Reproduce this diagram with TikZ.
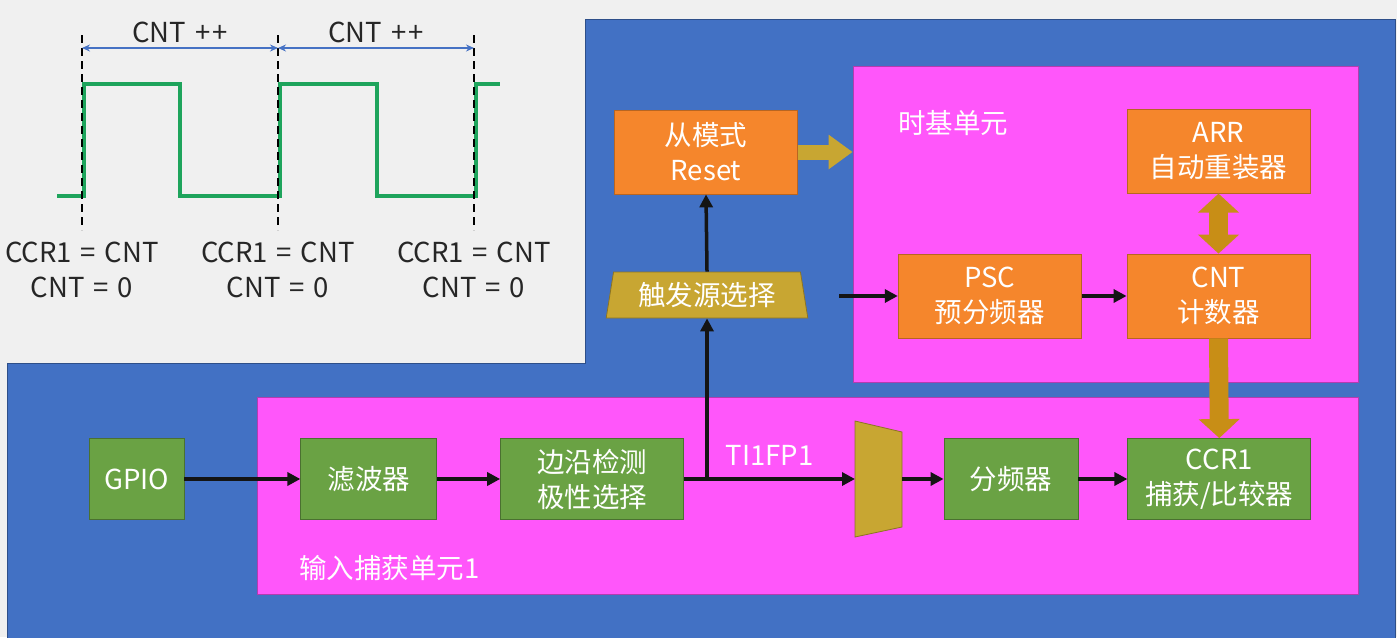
\documentclass[tikz,border=0pt]{standalone}
\usepackage{fontspec}
\setmainfont{Noto Sans CJK SC}
\usepackage{tikz}
\usetikzlibrary{arrows.meta,positioning,shapes.geometric,calc}
\definecolor{bggray}{RGB}{240,240,240}
\definecolor{bgblue}{RGB}{66,113,196}
\definecolor{unitpink}{RGB}{255,86,250}
\definecolor{ctrorange}{RGB}{245,134,44}
\definecolor{iogreen}{RGB}{106,162,68}
\definecolor{selolive}{RGB}{200,166,50}
\definecolor{busgold}{RGB}{200,142,22}
\definecolor{wavegreen}{RGB}{30,164,92}
\definecolor{spanblue}{RGB}{70,114,196}
\newcommand{\boxfont}{\fontsize{27.5}{35}\selectfont}
\newcommand{\eqgap}{\hspace{0.32em}}
\tikzset{
  unitbox/.style={rectangle, draw=unitpink!70!black, fill=unitpink, line width=0.8pt},
  ctrbox/.style={rectangle, draw=ctrorange!75!black, fill=ctrorange, line width=0.8pt,
                 minimum width=183pt, minimum height=84pt, inner sep=0pt,
                 align=center, text=white, font=\boxfont},
  iobox/.style={rectangle, draw=iogreen!70!black, fill=iogreen, line width=0.8pt,
                minimum width=183pt, minimum height=81pt, inner sep=0pt,
                align=center, text=white, font=\boxfont},
  selbox/.style={trapezium, trapezium stretches=true, draw=selolive!70!black,
                 fill=selolive, line width=0.8pt, inner sep=0pt,
                 text=white, font=\boxfont},
  muxbox/.style={draw=selolive!70!black, fill=selolive, line width=0.8pt},
  conn/.style={-{Triangle[length=13pt,width=13pt]}, line width=3.5pt, black!92},
  bus/.style={line width=19pt, busgold, -{Triangle[length=19pt,width=40pt]}},
  lbl/.style={text=white, font=\boxfont, anchor=west, inner sep=0pt},
  wave/.style={line width=3.5pt, wavegreen},
  dashline/.style={line width=1.8pt, black, dash pattern=on 8pt off 5pt},
  span/.style={{Stealth[length=8pt,width=7pt]}-{Stealth[length=8pt,width=7pt]}, line width=1.3pt, spanblue},
  wavelbl/.style={text=black!85, font=\boxfont, inner sep=0pt},
}
\begin{document}
\begin{tikzpicture}[x=1pt, y=-1pt]
  \useasboundingbox (0,0) rectangle (1397,637);
  \fill[bggray] (0,0) rectangle (1397,637);
  \filldraw[fill=bgblue, draw=bgblue!70!black, line width=0.8pt]
    (585,19) -- (1395,19) -- (1395,640) -- (7,640) -- (7,363) -- (585,363) -- cycle;

  % timing waveform
  \draw[wave] (57,196) -| (84,84) -| (180,196) -| (280,84) -| (377,196) -| (476,84) -- (500,84);
  \foreach \x [count=\i] in {82,278,474} {
    \draw[dashline] (\x,35) -- (\x,230);
    \node[wavelbl] (match\i) at (\x,252) {CCR1\eqgap=\eqgap CNT};
    \node[wavelbl] (clear\i) at (\x,287) {CNT\eqgap=\eqgap0};
  }
  \draw[span] (82,48) -- (278,48);
  \draw[span] (278,48) -- (474,48);
  \node[wavelbl] (inc1) at (180,32) {CNT\eqgap+\kern2pt+};
  \node[wavelbl] (inc2) at (376,32) {CNT\eqgap+\kern2pt+};

  % units
  \node[unitbox, minimum width=505pt, minimum height=316pt] (timebase) at (1105.5,224) {};
  \node[unitbox, minimum width=1101pt, minimum height=197pt] (icunit) at (807.5,495.5) {};
  \node[lbl] (tblbl) at (898,123) {时基单元};
  \node[lbl] (iclbl) at (299,568) {输入捕获单元1};

  % time base
  \node[ctrbox] (cnt) at (1218.5,296) {CNT\\计数器};
  \node[ctrbox, left=45pt of cnt] (psc) {PSC\\预分频器};
  \node[ctrbox, above=60pt of cnt] (arr) {ARR\\自动重装器};
  \node[ctrbox] (slave) at (706,152) {从模式\\Reset};
  \node[selbox, trapezium left angle=78, trapezium right angle=78,
        minimum width=202pt, minimum height=46pt] (trig) at (707,295) {触发源选择};

  % input capture
  \node[iobox, minimum width=95pt] (gpio) at (136.5,479) {GPIO};
  \node[iobox, minimum width=136pt, right=116pt of gpio] (filter) {滤波器};
  \node[iobox, right=63pt of filter] (edge) {边沿检测\\极性选择};
  \filldraw[muxbox] (855,421) -- (902,432) -- (902,527) -- (855,537) -- cycle;
  \coordinate (muxin) at (855,479);
  \coordinate (muxout) at (902,479);
  \node[iobox, minimum width=134pt] (div) at (1011,479) {分频器};
  \node[iobox, right=49pt of div] (ccr) {CCR1\\捕获/比较器};
  \coordinate (pscin) at (839,296);

  \draw[conn] (gpio) -- (filter);
  \draw[conn] (filter) -- (edge);
  \draw[conn] (edge.east) -- node[lbl, above=12pt, anchor=south] {TI1FP1} (muxin);
  \draw[conn] (edge.east -| trig.south) -- (trig.south);
  \draw[conn] (trig.north) -- (slave.south);
  \draw[conn] (muxout) -- (div.west);
  \draw[conn] (div) -- (ccr);
  \draw[conn] (pscin) -- (psc.west);
  \draw[conn] (psc) -- (cnt);
  \draw[bus, selolive, line width=15pt, -{Triangle[length=24pt,width=33pt]}] (slave.east) -- (slave.east -| timebase.west);
  \draw[bus, {Triangle[length=19pt,width=40pt]}-{Triangle[length=19pt,width=40pt]}] (arr.south) -- (cnt.north);
  \draw[bus] (cnt.south) -- (ccr.north);
\end{tikzpicture}
\end{document}
